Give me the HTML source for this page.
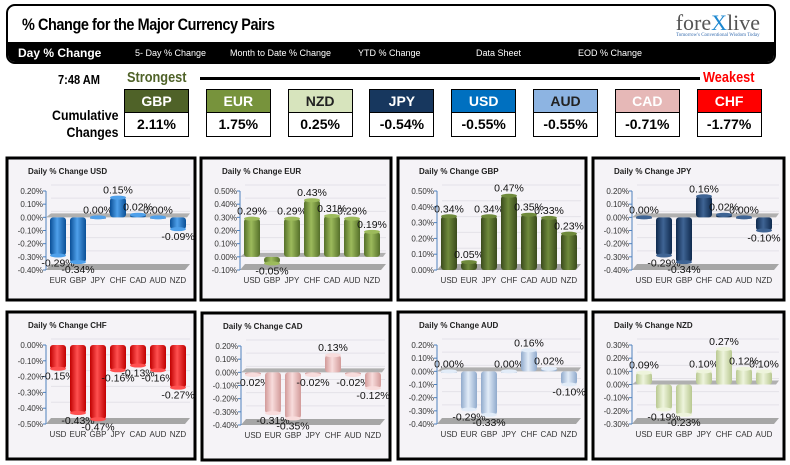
<!DOCTYPE html>
<html><head><meta charset="utf-8">
<style>
body{margin:0;width:790px;height:465px;background:#fff;overflow:hidden;font-family:"Liberation Sans",sans-serif;}
#hdr{position:absolute;left:6px;top:4px;width:766px;height:56px;border:2px solid #000;border-radius:9px;overflow:hidden;background:#fff;}
#title{position:absolute;left:14px;top:9px;font-weight:bold;font-size:17px;letter-spacing:-0.5px;transform:scaleX(0.85);transform-origin:left;}
#logo{position:absolute;right:14px;top:4px;font-family:"Liberation Serif",serif;font-size:22px;color:#555;}
#logo small{display:block;font-size:5px;color:#3a6fb0;text-align:center;margin-top:-3px}
#nav{position:absolute;left:0;top:36px;width:100%;height:20px;background:#000;color:#fff;font-size:9px;}
#nav span{position:absolute;top:6px;white-space:nowrap}
.box{position:absolute;width:63px;border:1px solid #000;text-align:center;font-weight:bold;}
.bh{height:22px;line-height:22px;font-size:14px;color:#fff;border-bottom:1px solid #000;}
.bv{height:23px;line-height:23px;font-size:14px;background:#fff;color:#000}
</style></head><body>
<div id="hdr">
 <div id="title">% Change for the Major Currency Pairs</div>
 <div id="logo">fore<span style="color:#1e88d0">X</span>live<small>Tomorrow's Conventional Wisdom Today</small></div>
 <div id="nav">
  <span style="left:10px;top:4px;font-size:12px;font-weight:bold">Day % Change</span>
  <span style="left:127px">5- Day % Change</span>
  <span style="left:222px">Month to Date % Change</span>
  <span style="left:350px">YTD % Change</span>
  <span style="left:468px">Data Sheet</span>
  <span style="left:570px">EOD % Change</span>
 </div>
</div>
<div style="position:absolute;left:58px;top:72px;font-weight:bold;font-size:13px;transform:scaleX(.85);transform-origin:left">7:48 AM</div>
<div style="position:absolute;left:127px;top:69px;font-weight:bold;font-size:15px;color:#4f6228;transform:scaleX(.85);transform-origin:left">Strongest</div>
<div style="position:absolute;left:200px;top:77px;width:500px;height:3px;background:#000"></div>
<div style="position:absolute;left:703px;top:69px;font-weight:bold;font-size:15px;color:#f00;transform:scaleX(.85);transform-origin:left">Weakest</div>
<div style="position:absolute;right:672px;top:107px;font-weight:bold;font-size:14px;text-align:right;line-height:17px;transform:scaleX(.88);transform-origin:right">Cumulative<br>Changes</div>
<div id="boxes"></div>
<svg id="charts" width="790" height="465" style="position:absolute;left:0;top:0"></svg>
<script>
const boxCur=["GBP","EUR","NZD","JPY","USD","AUD","CAD","CHF"];
const boxVal=["2.11%","1.75%","0.25%","-0.54%","-0.55%","-0.55%","-0.71%","-1.77%"];
const boxCol=["#4f6228","#77933c","#d7e4bd","#17375e","#0070c0","#8db4e2","#e6b8b7","#ff0000"];
const boxTxt=["#fff","#fff","#222","#fff","#fff","#222","#fff","#fff"];
const bx=document.getElementById('boxes');
boxCur.forEach((c,i)=>{
 const d=document.createElement('div');d.className='box';
 d.style.left=(124+i*81.8)+'px';d.style.top='89px';
 
 
 d.innerHTML='<div class="bh" style="background:'+boxCol[i]+';color:'+boxTxt[i]+'">'+c+'</div><div class="bv">'+boxVal[i]+'</div>';
 bx.appendChild(d);
});

// chart data
const catsUSD=["EUR","GBP","JPY","CHF","CAD","AUD","NZD"], valsUSD=[-0.29,-0.34,0.00,0.15,0.02,0.00,-0.09];
const catsEUR=["USD","GBP","JPY","CHF","CAD","AUD","NZD"], valsEUR=[0.29,-0.05,0.29,0.43,0.31,0.29,0.19];
const catsGBP=["USD","EUR","JPY","CHF","CAD","AUD","NZD"], valsGBP=[0.34,0.05,0.34,0.47,0.35,0.33,0.23];
const catsJPY=["USD","EUR","GBP","CHF","CAD","AUD","NZD"], valsJPY=[0.00,-0.29,-0.34,0.16,0.02,0.00,-0.10];
const catsCHF=["USD","EUR","GBP","JPY","CAD","AUD","NZD"], valsCHF=[-0.15,-0.43,-0.47,-0.16,-0.13,-0.16,-0.27];
const catsCAD=["USD","EUR","GBP","JPY","CHF","AUD","NZD"], valsCAD=[-0.02,-0.31,-0.35,-0.02,0.13,-0.02,-0.12];
const catsAUD=["USD","EUR","GBP","JPY","CHF","CAD","NZD"], valsAUD=[0.00,-0.29,-0.33,0.00,0.16,0.02,-0.10];
const catsNZD=["USD","EUR","GBP","JPY","CHF","CAD","AUD"], valsNZD=[0.09,-0.19,-0.23,0.10,0.27,0.12,0.10];
const rangeUSD=[-0.4,0.2], rangeEUR=[-0.1,0.5], rangeGBP=[0,0.5], rangeJPY=[-0.4,0.2];
const rangeCHF=[-0.5,0], rangeCAD=[-0.4,0.2], rangeAUD=[-0.4,0.2], rangeNZD=[-0.3,0.3];
const tickStep=0.1;

const NS='http://www.w3.org/2000/svg';
const svg=document.getElementById('charts');
function el(t,a,p){const e=document.createElementNS(NS,t);for(const k in a)e.setAttribute(k,a[k]);(p||svg).appendChild(e);return e;}
const defs=el('defs',{});
function grad(id,c1,c2){const g=el('linearGradient',{id:id,x1:0,x2:1,y1:0,y2:0},defs);
 el('stop',{offset:'0','stop-color':c1},g);el('stop',{offset:'0.45','stop-color':c2},g);el('stop',{offset:'1','stop-color':c1},g);}
const panels=[
 {name:'usd',x:7,y:158,w:188,h:142,cats:catsUSD,vals:valsUSD,r:rangeUSD,c1:'#0a4f96',c2:'#4fa0ea'},
 {name:'eur',x:201,y:158,w:190,h:142,cats:catsEUR,vals:valsEUR,r:rangeEUR,c1:'#55702a',c2:'#9dbb5c'},
 {name:'gbp',x:398,y:158,w:188,h:142,cats:catsGBP,vals:valsGBP,r:rangeGBP,c1:'#3a4a1c',c2:'#6f8a3c'},
 {name:'jpy',x:593,y:158,w:191,h:142,cats:catsJPY,vals:valsJPY,r:rangeJPY,c1:'#0f2a4e',c2:'#3f6494'},
 {name:'chf',x:7,y:312,w:188,h:147,cats:catsCHF,vals:valsCHF,r:rangeCHF,c1:'#c00000',c2:'#ff5050'},
 {name:'cad',x:202,y:313,w:188,h:147,cats:catsCAD,vals:valsCAD,r:rangeCAD,c1:'#d29a99',c2:'#f8dcdc'},
 {name:'aud',x:398,y:312,w:188,h:147,cats:catsAUD,vals:valsAUD,r:rangeAUD,c1:'#90aacc',c2:'#e2ecf8'},
 {name:'nzd',x:593,y:312,w:191,h:147,cats:catsNZD,vals:valsNZD,r:rangeNZD,c1:'#b8c890',c2:'#eef4dc'}
];
panels.forEach(p=>{
 const g=el('g',{});
 
 
 grad('g'+p.name,p.c1,p.c2);
 el('rect',{x:p.x,y:p.y,width:p.w,height:p.h,fill:'#f5f3f7',stroke:'#000','stroke-width':3},g);
 const t=el('text',{x:p.x+21,y:p.y+16,'font-size':8,'font-weight':'bold',fill:'#222'},g);
 t.textContent='Daily % Change '+p.name.toUpperCase();
 
 const ax=p.x+39, right=p.x+p.w-5, yt=p.y+33, yb=p.y+112;
 const [mn,mx]=p.r;
 const Y=v=>yb-(v-mn)/(mx-mn)*(yb-yt);
 const X=i=>p.x+51+i*20;
 el('polygon',{points:`${ax},${yb} ${ax+5},${yb-6} ${right},${yb-6} ${right-5},${yb}`,fill:'#a6a6a6'},g);
 const nT=Math.round((mx-mn)/tickStep);
 for(let k=0;k<=nT;k++){
  const v=mn+k*tickStep, yy=Y(v);
  if(k>0) el('line',{x1:ax+5,x2:right,y1:yy-6,y2:yy-6,stroke:'#e4e2e8','stroke-width':1},g);
  el('line',{x1:ax-3,x2:ax,y1:yy,y2:yy,stroke:'#4f81bd'},g);
  const tl=el('text',{x:ax-3,y:yy+3,'font-size':8,'text-anchor':'end',fill:'#333'},g);
  tl.textContent=v.toFixed(2).replace('-0.00','0.00')+'%';
 }
 if(mn<0&&mx>0) el('polygon',{points:`${ax},${Y(0)} ${ax+5},${Y(0)-4} ${right},${Y(0)-4} ${right-3},${Y(0)}`,fill:'#b0b0b0'},g);
 el('line',{x1:ax,x2:ax,y1:yt,y2:yb,stroke:'#4f81bd','stroke-width':1},g);
 p.vals.forEach((v,i)=>{
  const cx=X(i), y0=Y(Math.max(0,mn)), y1=Y(v);
  const top=Math.min(y0,y1), h=Math.max(Math.abs(y1-y0),1.5);
  const b=el('rect',{x:cx-8,y:top,width:16,height:h,rx:3,fill:'url(#g'+p.name+')'},g);
  
  
  el('ellipse',{cx:cx,cy:y1,rx:8,ry:2,fill:p.c2},g);
  const lab=el('text',{x:cx,y:v>=0?y1-4:y1+11,'font-size':10.5,'text-anchor':'middle',fill:'#111'},g);
  lab.textContent=v.toFixed(2)+'%';
  const xl=el('text',{x:cx,y:yb+13,'font-size':8,'text-anchor':'middle',fill:'#333'},g);
  xl.textContent=p.cats[i];
 });
});
</script>
</body></html>
